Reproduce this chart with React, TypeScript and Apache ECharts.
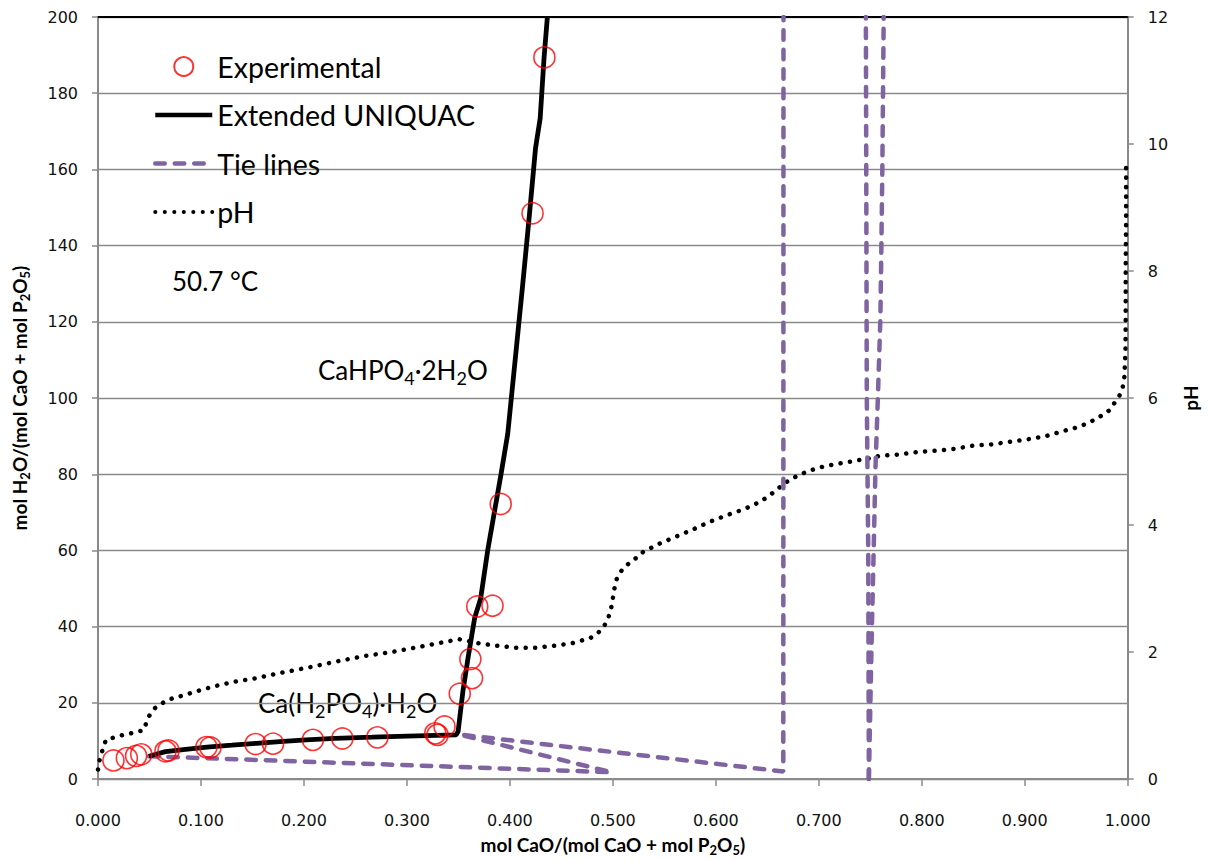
import React, { useEffect, useRef } from "react";
import * as echarts from "echarts";

// x: mol CaO/(mol CaO + mol P2O5), y: mol H2O/(mol CaO + mol P2O5)
const experimental: [number, number][] = [
  [0.015, 4.9], [0.028, 5.5], [0.037, 6.1], [0.042, 6.5],
  [0.0655, 7.3], [0.0685, 7.5], [0.1053, 8.4], [0.1092, 8.3],
  [0.153, 9.2], [0.17, 9.3], [0.2087, 10.3], [0.2373, 10.65],
  [0.2713, 10.95], [0.3275, 12.0], [0.3297, 11.6], [0.3365, 13.8],
  [0.3513, 22.4], [0.3632, 26.5], [0.3616, 31.5], [0.3683, 45.3],
  [0.3831, 45.5], [0.3911, 72.2], [0.422, 148.5], [0.4335, 189.4],
];

const uniquac: [number, number][] = [
  [0.0494, 6.0], [0.0655, 7.2], [0.085, 7.8], [0.1057, 8.4], [0.13, 8.9],
  [0.1538, 9.4], [0.18, 9.9], [0.202, 10.3], [0.23, 10.7], [0.2662, 11.0],
  [0.3, 11.3], [0.3478, 11.6], [0.3497, 12.5], [0.3545, 23.3], [0.3594, 31.9],
  [0.3658, 42.3], [0.3716, 47.4], [0.3786, 60.3], [0.3915, 80.2], [0.3979, 90.6],
  [0.4056, 111.3], [0.4123, 129.4], [0.4191, 148.5], [0.4249, 165.6],
  [0.4294, 173.4], [0.4332, 189.4], [0.4364, 200],
];

const tieLinesMain: [number, number][] = [
  [0.0494, 6.0], [0.4985, 1.8], [0.351, 11.7], [0.6655, 2.0], [0.6657, 200],
];
const tieLineLeft: [number, number][] = [
  [0.7486, 0], [0.748, 60], [0.7466, 100], [0.7457, 200],
];
const tieLineRight: [number, number][] = [
  [0.7486, 0], [0.7502, 21.7], [0.7517, 41.7], [0.7534, 61.6], [0.755, 81.5],
  [0.7575, 101.4], [0.7598, 121.1], [0.7608, 140.8], [0.7617, 160.4], [0.763, 200],
];

const phCurve: [number, number][] = [
  [0.0, 0.15], [0.002, 0.34], [0.0077, 0.62], [0.0165, 0.66], [0.0253, 0.7],
  [0.0345, 0.73], [0.0442, 0.77], [0.0494, 0.99], [0.0555, 1.12], [0.0639, 1.21],
  [0.072, 1.27], [0.0832, 1.32], [0.0992, 1.4], [0.1153, 1.47], [0.1346, 1.54],
  [0.1538, 1.59], [0.1795, 1.68], [0.2052, 1.76], [0.2341, 1.86], [0.2598, 1.94],
  [0.2887, 2.01], [0.3176, 2.1], [0.3433, 2.18], [0.3513, 2.2], [0.369, 2.14],
  [0.3866, 2.1], [0.4059, 2.07], [0.4252, 2.07], [0.4428, 2.1], [0.4605, 2.14],
  [0.478, 2.22], [0.4861, 2.31], [0.4919, 2.42], [0.4958, 2.55], [0.4987, 2.72],
  [0.5015, 3.0], [0.5039, 3.16], [0.5087, 3.29], [0.5151, 3.39], [0.5224, 3.48],
  [0.5296, 3.58], [0.5456, 3.71], [0.5617, 3.82], [0.5777, 3.93], [0.5938, 4.05],
  [0.6114, 4.16], [0.6275, 4.25], [0.6435, 4.37], [0.6516, 4.46], [0.6587, 4.55],
  [0.666, 4.65], [0.6734, 4.73], [0.6895, 4.85], [0.7062, 4.93], [0.7238, 4.98],
  [0.7415, 5.03], [0.7495, 5.05], [0.759, 5.09], [0.7775, 5.11], [0.7951, 5.15],
  [0.8138, 5.17], [0.8314, 5.2], [0.8497, 5.25], [0.8677, 5.27], [0.885, 5.31],
  [0.9027, 5.35], [0.9203, 5.4], [0.9374, 5.48], [0.9535, 5.55], [0.9695, 5.67],
  [0.9824, 5.81], [0.992, 6.04], [0.9952, 6.18], [0.9968, 6.34], [0.9978, 6.78],
  [0.998, 7.24], [0.998, 8.02], [0.9984, 8.8], [0.9984, 9.37], [0.9984, 9.69],
];

const xMin = 0, xMax = 1, xStep = 0.1;
const yMin = 0, yMax = 200, yStep = 20;
const phMin = 0, phMax = 12, phStep = 2;

const GRAY = "#8a8a8a";
const PURPLE = "#8064A2";
const RED = "#FF0000";
const LABEL_FONT = "DejaVu Sans";
const TEXT_FONT = "Lato";

export default function App() {
  const ref = useRef<HTMLDivElement>(null);
  useEffect(() => {
    const chart = echarts.init(ref.current!, null, { renderer: "svg" });
    const subRich = (size: number, bold: boolean) => ({
      s: {
        fontSize: size,
        fontFamily: TEXT_FONT,
        fontWeight: bold ? "bold" : "normal",
        color: "#000",
        lineHeight: size,
        verticalAlign: "bottom",
      },
    });
    const axisNameStyle = {
      fontFamily: TEXT_FONT,
      fontWeight: "bold",
      fontSize: 19,
      color: "#000",
      lineHeight: 23,
      rich: subRich(13, true),
    };
    const tieStyle = {
      color: PURPLE,
      width: 4.5,
      type: [9.5, 10],
      cap: "round",
    };
    const hidden = { opacity: 0 };
    chart.setOption({
      animation: false,
      backgroundColor: "#fff",
      grid: { left: 97, right: 75, top: 17, bottom: 71, containLabel: false },
      legend: {
        data: [
          { name: "Experimental" },
          { name: "Extended UNIQUAC", itemStyle: hidden, lineStyle: { width: 4.5 } },
          { name: "Tie lines", itemStyle: hidden, lineStyle: { width: 4.5 } },
          { name: "pH", itemStyle: hidden, lineStyle: { width: 4 } },
        ],
        orient: "vertical",
        left: 148,
        top: 47,
        itemWidth: 57,
        itemHeight: 19,
        itemGap: 19.5,
        textStyle: { fontFamily: TEXT_FONT, fontSize: 28.5, color: "#000" },
        selectedMode: false,
      },
      xAxis: [
        {
          type: "value",
          min: xMin,
          max: xMax,
          interval: xStep,
          name: "mol CaO/(mol CaO + mol P{s|2}O{s|5})",
          nameLocation: "middle",
          nameGap: 45,
          nameTextStyle: axisNameStyle,
          axisLine: { show: true, onZero: false, lineStyle: { color: GRAY, width: 2 } },
          axisTick: { show: true, length: 7, lineStyle: { color: GRAY, width: 1.5 } },
          axisLabel: {
            margin: 33,
            fontFamily: LABEL_FONT,
            fontSize: 16,
            color: "#111",
            formatter: (v: number) => v.toFixed(3),
          },
          splitLine: { show: false },
        },
        {
          type: "value",
          position: "top",
          min: xMin,
          max: xMax,
          axisLine: { show: true, onZero: false, lineStyle: { color: "#000", width: 2 } },
          axisTick: { show: false },
          axisLabel: { show: false },
          splitLine: { show: false },
        },
      ],
      yAxis: [
        {
          type: "value",
          min: yMin,
          max: yMax,
          interval: yStep,
          position: "left",
          name: "mol H{s|2}O/(mol CaO + mol P{s|2}O{s|5})",
          nameLocation: "middle",
          nameGap: 67,
          nameRotate: 90,
          nameTextStyle: axisNameStyle,
          axisLine: { show: true, onZero: false, lineStyle: { color: GRAY, width: 2 } },
          axisTick: { show: true, length: 6, lineStyle: { color: GRAY, width: 1.5 } },
          axisLabel: { margin: 20, fontFamily: LABEL_FONT, fontSize: 16, color: "#111" },
          splitLine: { show: true, lineStyle: { color: GRAY, width: 1.3 } },
        },
        {
          type: "value",
          min: phMin,
          max: phMax,
          interval: phStep,
          position: "right",
          name: "pH",
          nameLocation: "middle",
          nameGap: 49,
          nameRotate: 90,
          nameTextStyle: axisNameStyle,
          axisLine: { show: true, onZero: false, lineStyle: { color: GRAY, width: 2 } },
          axisTick: { show: true, length: 6, lineStyle: { color: GRAY, width: 1.5 } },
          axisLabel: { margin: 20, fontFamily: LABEL_FONT, fontSize: 16, color: "#111" },
          splitLine: { show: false },
        },
      ],
      graphic: [
        {
          type: "text",
          x: 172,
          y: 281,
          style: {
            text: "50.7 °C",
            fontFamily: TEXT_FONT,
            fontSize: 26,
            fill: "#000",
            verticalAlign: "middle",
          },
        },
        {
          type: "text",
          x: 318,
          y: 370,
          style: {
            text: "CaHPO{s|4}·2H{s|2}O",
            fontFamily: TEXT_FONT,
            fontSize: 26,
            lineHeight: 34,
            fill: "#000",
            verticalAlign: "middle",
            rich: subRich(18, false),
          },
        },
        {
          type: "text",
          x: 258,
          y: 703,
          style: {
            text: "Ca(H{s|2}PO{s|4})·H{s|2}O",
            fontFamily: TEXT_FONT,
            fontSize: 26,
            lineHeight: 34,
            fill: "#000",
            verticalAlign: "middle",
            rich: subRich(18, false),
          },
        },
      ],
      series: [
        {
          name: "pH",
          type: "line",
          yAxisIndex: 1,
          data: phCurve,
          showSymbol: false,
          symbol: "none",
          lineStyle: { color: "#000", width: 4.5, type: [0.1, 9.4], cap: "round" },
          itemStyle: { color: "#000", opacity: 0 },
          z: 2,
        },
        {
          name: "Tie lines",
          type: "line",
          data: tieLinesMain,
          symbol: "none",
          lineStyle: tieStyle,
          itemStyle: { color: PURPLE, opacity: 0 },
          z: 3,
        },
        {
          name: "Tie lines",
          type: "line",
          data: tieLineLeft,
          symbol: "none",
          lineStyle: tieStyle,
          itemStyle: { color: PURPLE, opacity: 0 },
          z: 3,
        },
        {
          name: "Tie lines",
          type: "line",
          data: tieLineRight,
          symbol: "none",
          lineStyle: tieStyle,
          itemStyle: { color: PURPLE, opacity: 0 },
          z: 3,
        },
        {
          name: "Extended UNIQUAC",
          type: "line",
          data: uniquac,
          symbol: "none",
          lineStyle: { color: "#000", width: 4.8 },
          itemStyle: { color: "#000", opacity: 0 },
          z: 4,
        },
        {
          name: "Experimental",
          type: "scatter",
          data: experimental,
          symbol: "circle",
          symbolSize: 21,
          itemStyle: { color: "rgba(255,255,255,0)", borderColor: RED, borderWidth: 1.6 },
          z: 5,
        },
      ],
    });
    return () => chart.dispose();
  }, []);
  return (
    <div
      ref={ref}
      style={{ position: "absolute", left: 0, top: 0, width: 1210, height: 861 }}
    />
  );
}
